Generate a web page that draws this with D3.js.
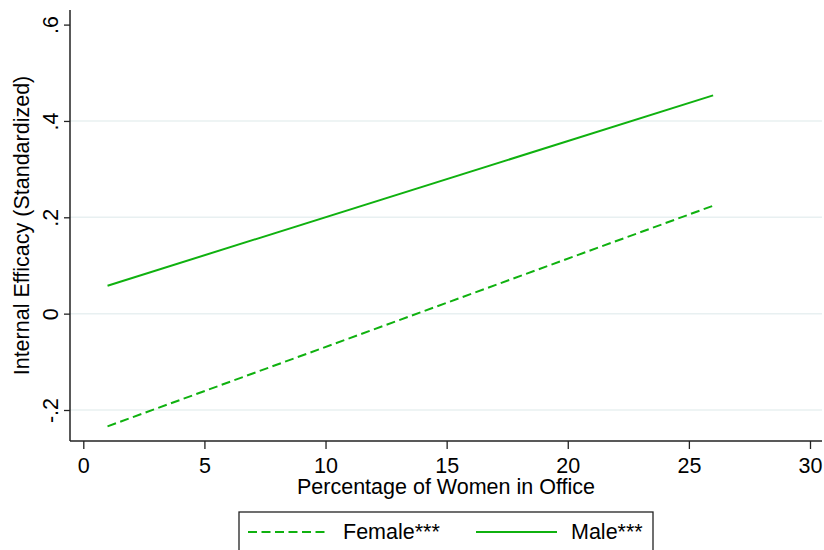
<!DOCTYPE html>
<html>
<head>
<meta charset="utf-8">
<script src="https://cdn.jsdelivr.net/npm/d3@7"></script>
<style>
  html, body { margin: 0; padding: 0; background: #fff; }
  svg { display: block; font-family: Arial, "Liberation Sans", Helvetica, sans-serif; }
</style>
</head>
<body>
<svg id="chart" width="824" height="550"></svg>
<script>
// ---- data ----
const xValues = [1, 26];
const femaleValues = [-0.234, 0.224];
const maleValues = [0.058, 0.453];
const seriesNames = ["Female***", "Male***"];
const xTicks = [0, 5, 10, 15, 20, 25, 30];
const yTicks = [-0.2, 0, 0.2, 0.4, 0.6];
const yTickLabels = ["-.2", "0", ".2", ".4", ".6"];
const xTitle = "Percentage of Women in Office";
const yTitle = "Internal Efficacy (Standardized)";

// ---- layout ----
const svg = d3.select("#chart");
const green = "#0fb10f";
const axisColor = "#222";
const gridColor = "#e8f0f1";
const fs = 21.5;
const plotLeft = 70, plotRight = 822, plotTop = 10, plotBottom = 441;

const x = d3.scaleLinear().domain([0, 30]).range([83.3, 810]);
const y = d3.scaleLinear().domain([-0.2, 0.6]).range([410, 24.6]);

// gridlines
svg.append("g").selectAll("line")
  .data(yTicks.slice(0, 4))
  .join("line")
  .attr("x1", plotLeft).attr("x2", plotRight)
  .attr("y1", d => y(d)).attr("y2", d => y(d))
  .attr("stroke", gridColor).attr("stroke-width", 1.5);

// y axis
const yAxis = d3.axisLeft(y).tickValues(yTicks)
  .tickFormat((d, i) => yTickLabels[i]).tickSize(6).tickPadding(0);
const gy = svg.append("g").attr("transform", `translate(${plotLeft},0)`).call(yAxis);
gy.attr("font-size", null).attr("font-family", null);
gy.select(".domain").remove();
gy.append("line").attr("x1", 0).attr("x2", 0).attr("y1", plotTop).attr("y2", plotBottom)
  .attr("stroke", axisColor).attr("stroke-width", 1.5);
gy.selectAll(".tick line").attr("stroke", axisColor).attr("stroke-width", 1.3);
gy.selectAll(".tick text")
  .style("font-size", fs + "px").attr("fill", "#000")
  .attr("text-anchor", "middle")
  .attr("transform", "rotate(-90)")
  .attr("x", 0).attr("y", -12.5).attr("dy", 0);

// x axis
const xAxis = d3.axisBottom(x).tickValues(xTicks).tickSize(8).tickPadding(6);
const gx = svg.append("g").attr("transform", `translate(0,${plotBottom})`).call(xAxis);
gx.attr("font-size", null).attr("font-family", null);
gx.select(".domain").remove();
gx.append("line").attr("x1", plotLeft).attr("x2", plotRight).attr("y1", 0).attr("y2", 0)
  .attr("stroke", axisColor).attr("stroke-width", 1.5);
gx.selectAll(".tick line").attr("stroke", axisColor).attr("stroke-width", 1.3);
gx.selectAll(".tick text").style("font-size", fs + "px").attr("fill", "#000")
  .attr("y", 32).attr("dy", 0);

// titles
svg.append("text").attr("x", (plotLeft + plotRight) / 2).attr("y", 494)
  .attr("text-anchor", "middle").style("font-size", fs + "px").text(xTitle);
svg.append("text").attr("transform", `translate(29,${(plotTop + plotBottom) / 2}) rotate(-90)`)
  .attr("text-anchor", "middle").style("font-size", fs + "px").text(yTitle);

// lines
const line = d3.line().x(d => x(d[0])).y(d => y(d[1]));
const femaleData = xValues.map((v, i) => [v, femaleValues[i]]);
const maleData = xValues.map((v, i) => [v, maleValues[i]]);
svg.append("path").datum(femaleData).attr("d", line)
  .attr("fill", "none").attr("stroke", green).attr("stroke-width", 2)
  .attr("stroke-dasharray", "9,4.5");
svg.append("path").datum(maleData).attr("d", line)
  .attr("fill", "none").attr("stroke", green).attr("stroke-width", 2);

// legend
const lg = svg.append("g");
lg.append("rect").attr("x", 239).attr("y", 512).attr("width", 414).attr("height", 50)
  .attr("fill", "#fff").attr("stroke", axisColor).attr("stroke-width", 1.3);
const legendItems = [
  { name: seriesNames[0], dash: "9,4.5", x0: 248, x1: 328, tx: 343 },
  { name: seriesNames[1], dash: null, x0: 476, x1: 557, tx: 571 }
];
legendItems.forEach(it => {
  lg.append("line").attr("x1", it.x0).attr("x2", it.x1).attr("y1", 532).attr("y2", 532)
    .attr("stroke", green).attr("stroke-width", 2)
    .attr("stroke-dasharray", it.dash);
  lg.append("text").attr("x", it.tx).attr("y", 539).style("font-size", fs + "px").text(it.name);
});
</script>
</body>
</html>
